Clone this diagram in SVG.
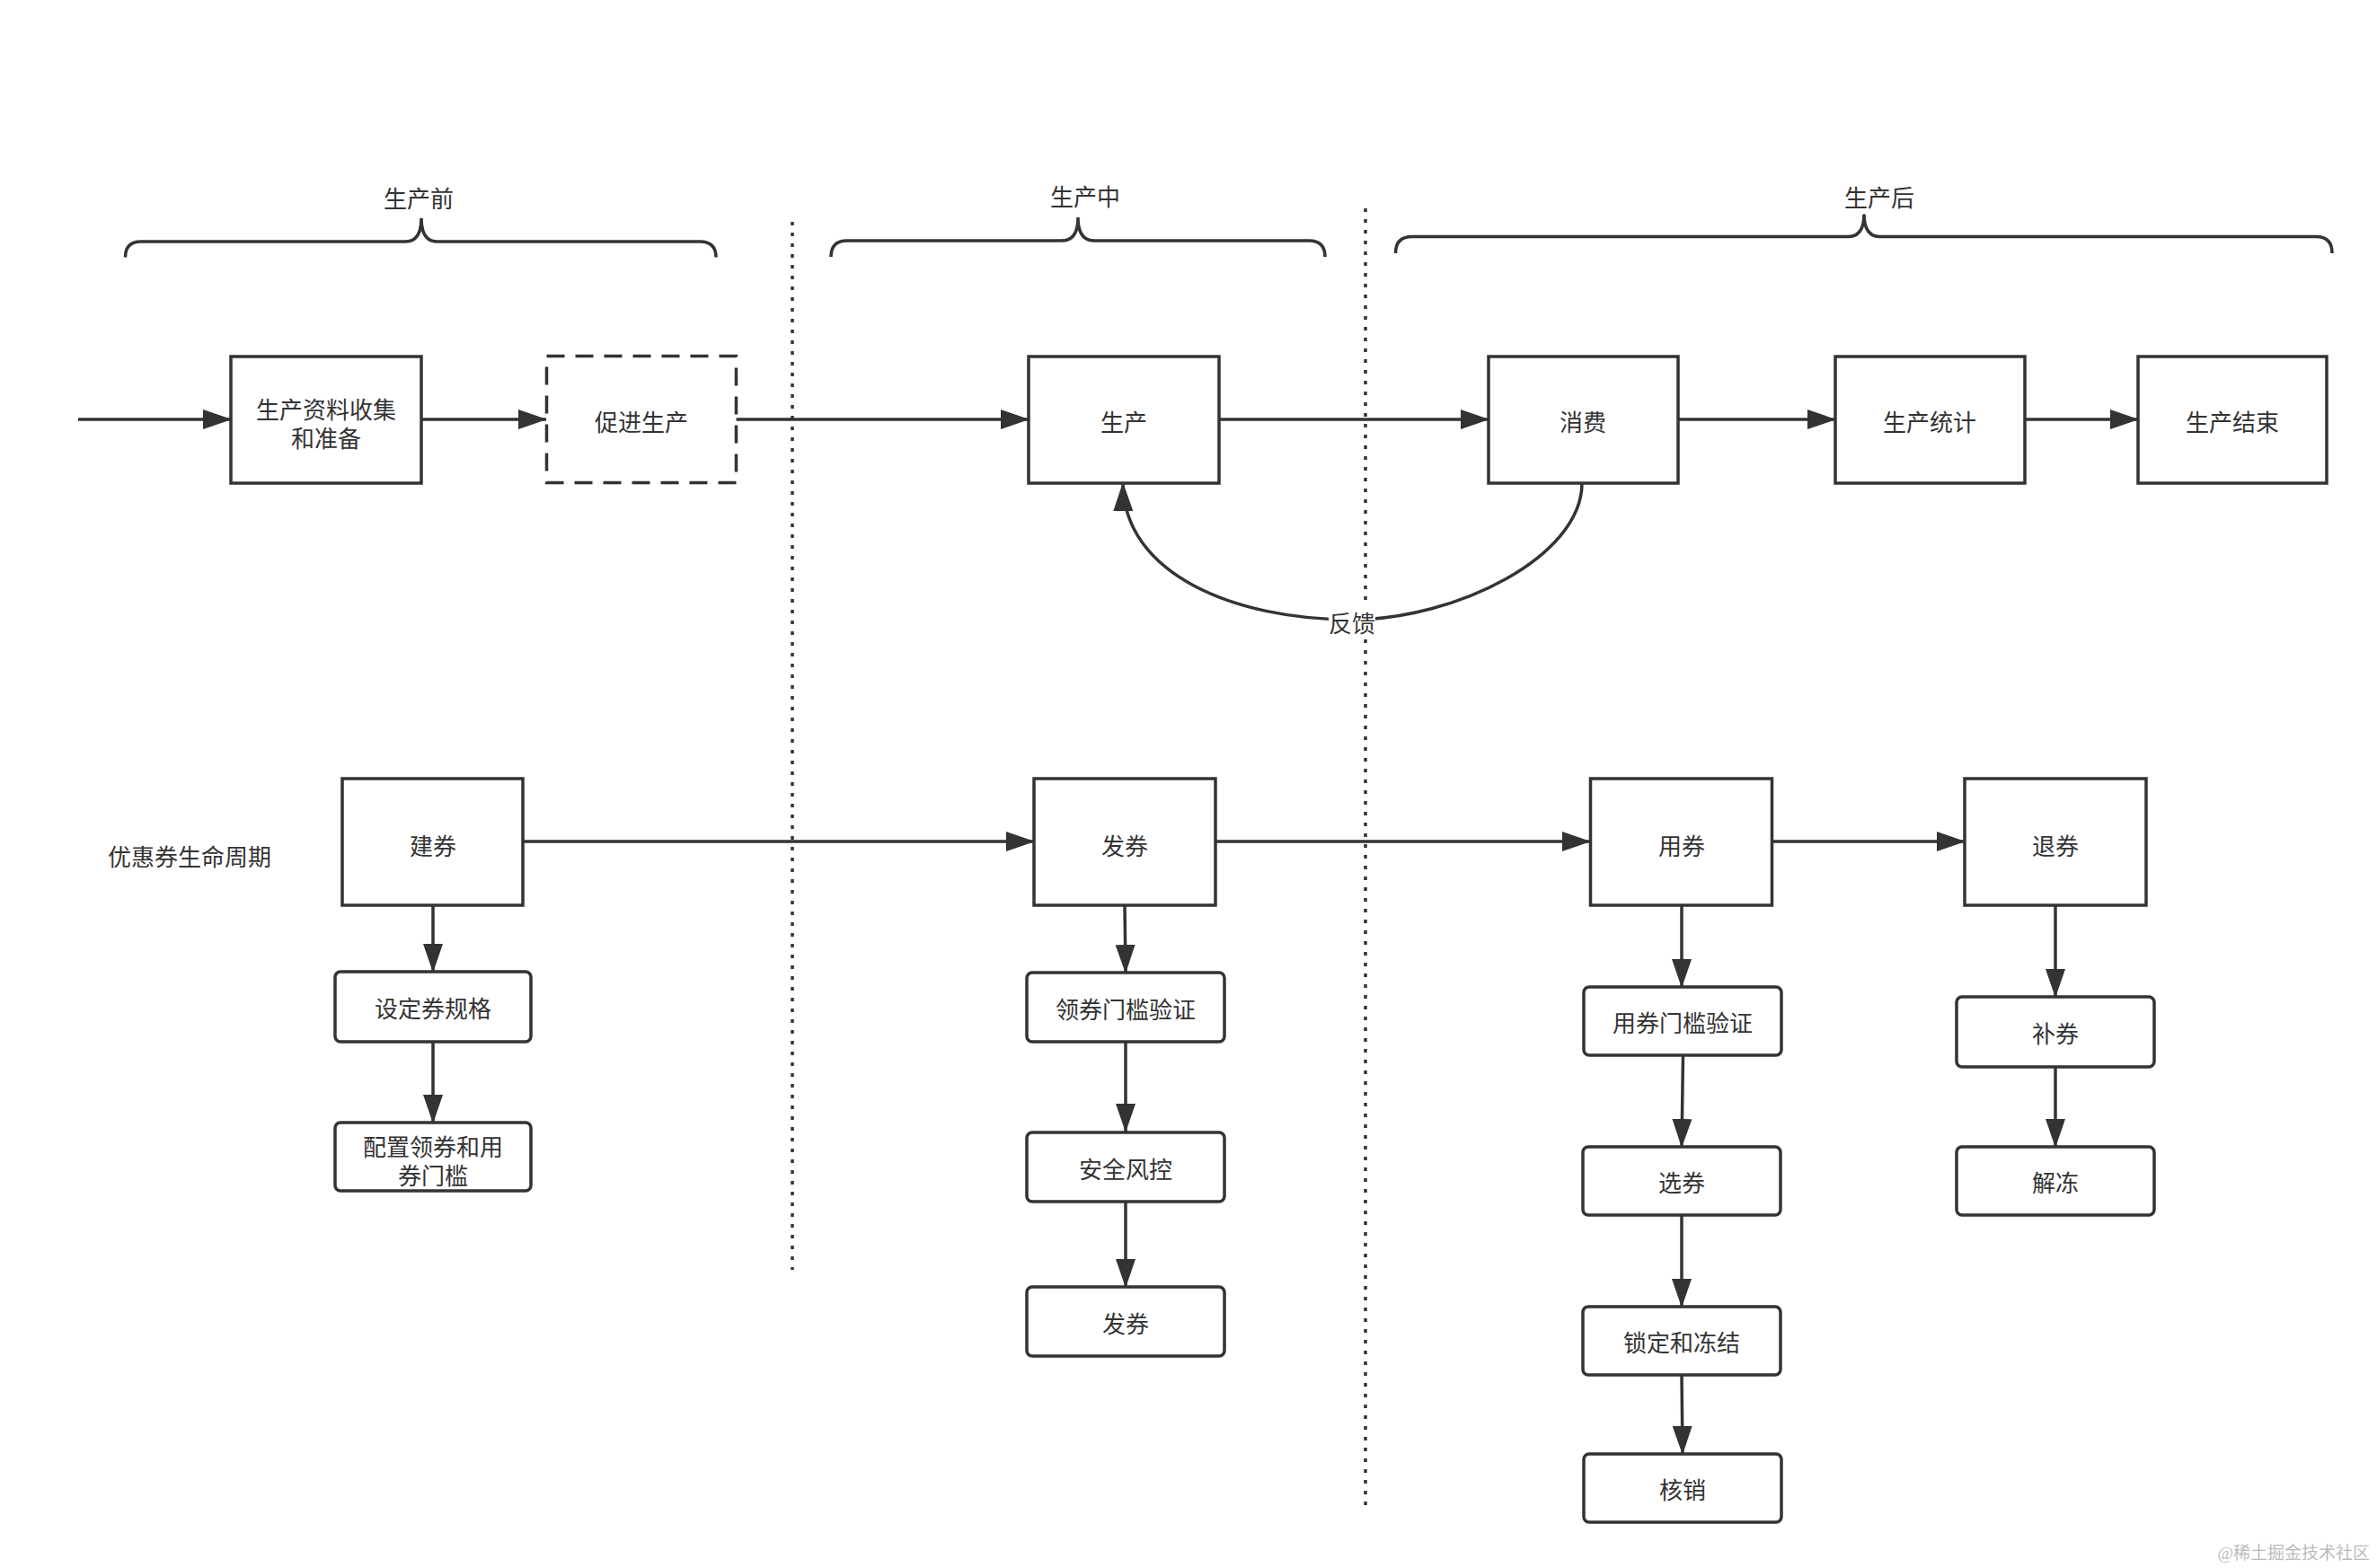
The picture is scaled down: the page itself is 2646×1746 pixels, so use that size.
<svg xmlns="http://www.w3.org/2000/svg" width="2646" height="1746" viewBox="0 0 2646 1746">
<style>
.box{fill:#ffffff;stroke:#333333;stroke-width:3.5}
.dash{fill:#ffffff;stroke:#333333;stroke-width:3.5;stroke-dasharray:20 12}
.t{font-family:"Noto Sans CJK SC","Noto Sans",sans-serif;font-size:26px;fill:#333333;text-anchor:middle}
.tl{font-family:"Noto Sans CJK SC","Noto Sans",sans-serif;font-size:26px;fill:#333333;text-anchor:start}
.c{fill:none;stroke:#333333;stroke-width:3.5}
.dot{fill:none;stroke:#333333;stroke-width:3.5;stroke-dasharray:4 8}
.brace{fill:none;stroke:#333333;stroke-width:3.5}
.wm{font-family:"Liberation Serif","Noto Sans CJK SC",serif;font-size:19px;fill:#bbbbbb;text-anchor:end}
</style>
<defs>
<marker id="arr" markerUnits="userSpaceOnUse" markerWidth="32" markerHeight="22" refX="31" refY="11" orient="auto">
<path d="M0,0 L32,11 L0,22 Z" fill="#333333"/>
</marker>
</defs>
<rect width="2646" height="1746" fill="#ffffff"/>

<g id="separators">
<line class="dot" x1="882" y1="247" x2="882" y2="1414"/>
<line class="dot" x1="1520" y1="232" x2="1520" y2="1678"/>
</g>

<g id="phase-before">
<path class="brace" d="M139.5,286.5 Q139.5,269 157,269 L451,269 Q469,269 469,243 Q469,269 487,269 L779,269 Q797,269 797,286.5"/>
<text class="t" x="466" y="231">生产前</text>
</g>
<g id="phase-during">
<path class="brace" d="M925,286 Q925,268 943,268 L1182,268 Q1200,268 1200,242 Q1200,268 1218,268 L1457,268 Q1475,268 1475,286"/>
<text class="t" x="1208" y="229">生产中</text>
</g>
<g id="phase-after">
<path class="brace" d="M1553.5,282 Q1553.5,263.6 1572,263.6 L2057,263.6 Q2075,263.6 2075,238.6 Q2075,263.6 2093,263.6 L2578,263.6 Q2596,263.6 2596,282"/>
<text class="t" x="2092" y="230">生产后</text>
</g>

<g id="connectors">
<line class="c" x1="87" y1="467" x2="257" y2="467" marker-end="url(#arr)"/>
<line class="c" x1="469" y1="467" x2="608" y2="467" marker-end="url(#arr)"/>
<line class="c" x1="819" y1="467" x2="1145" y2="467" marker-end="url(#arr)"/>
<line class="c" x1="1357" y1="467" x2="1657" y2="467" marker-end="url(#arr)"/>
<line class="c" x1="1868" y1="467" x2="2043" y2="467" marker-end="url(#arr)"/>
<line class="c" x1="2254" y1="467" x2="2380" y2="467" marker-end="url(#arr)"/>
<path class="c" d="M1761,538 C1761,620 1620,690 1505,690 C1375,690 1251,640 1250,538" marker-end="url(#arr)"/>
<rect x="1479" y="675" width="52" height="34" fill="#ffffff"/>
<text class="t" x="1505" y="704">反馈</text>

<line class="c" x1="582" y1="937" x2="1151" y2="937" marker-end="url(#arr)"/>
<line class="c" x1="1353" y1="937" x2="1770" y2="937" marker-end="url(#arr)"/>
<line class="c" x1="1972" y1="937" x2="2187" y2="937" marker-end="url(#arr)"/>

<line class="c" x1="482" y1="1008" x2="482" y2="1082" marker-end="url(#arr)"/>
<line class="c" x1="482" y1="1160" x2="482" y2="1250" marker-end="url(#arr)"/>
<line class="c" x1="1252" y1="1008" x2="1253" y2="1083" marker-end="url(#arr)"/>
<line class="c" x1="1253" y1="1160" x2="1253" y2="1260" marker-end="url(#arr)"/>
<line class="c" x1="1253" y1="1338" x2="1253" y2="1433" marker-end="url(#arr)"/>
<line class="c" x1="1872" y1="1008" x2="1872" y2="1099" marker-end="url(#arr)"/>
<line class="c" x1="1873.5" y1="1175" x2="1872" y2="1277" marker-end="url(#arr)"/>
<line class="c" x1="1872" y1="1353" x2="1872" y2="1455" marker-end="url(#arr)"/>
<line class="c" x1="1872" y1="1531" x2="1873" y2="1619" marker-end="url(#arr)"/>
<line class="c" x1="2288" y1="1008" x2="2288" y2="1110" marker-end="url(#arr)"/>
<line class="c" x1="2288" y1="1188" x2="2288" y2="1277" marker-end="url(#arr)"/>
</g>

<g id="n-collect">
<rect class="box" x="257" y="397" width="212" height="141"/>
<text class="t" x="363" y="466">生产资料收集</text>
<text class="t" x="363" y="498">和准备</text>
</g>
<g id="n-promote">
<rect class="dash" x="608.5" y="396.5" width="211" height="141"/>
<text class="t" x="714" y="480">促进生产</text>
</g>
<g id="n-produce">
<rect class="box" x="1145" y="397" width="212" height="141"/>
<text class="t" x="1251" y="480">生产</text>
</g>
<g id="n-consume">
<rect class="box" x="1657" y="397" width="211" height="141"/>
<text class="t" x="1762" y="480">消费</text>
</g>
<g id="n-stats">
<rect class="box" x="2043" y="397" width="211" height="141"/>
<text class="t" x="2148" y="480">生产统计</text>
</g>
<g id="n-end">
<rect class="box" x="2380" y="397" width="210" height="141"/>
<text class="t" x="2485" y="480">生产结束</text>
</g>

<g id="lifecycle-label">
<text class="tl" x="120" y="964">优惠券生命周期</text>
</g>

<g id="n-create">
<rect class="box" x="381" y="867" width="201" height="141"/>
<text class="t" x="482" y="952">建券</text>
</g>
<g id="n-spec">
<rect class="box" x="373" y="1082" width="218" height="78" rx="6"/>
<text class="t" x="482" y="1133">设定券规格</text>
</g>
<g id="n-config">
<rect class="box" x="373" y="1250" width="218" height="76" rx="6"/>
<text class="t" x="482" y="1287">配置领券和用</text>
<text class="t" x="482" y="1319">券门槛</text>
</g>

<g id="n-issue">
<rect class="box" x="1151" y="867" width="202" height="141"/>
<text class="t" x="1252" y="952">发券</text>
</g>
<g id="n-claim-check">
<rect class="box" x="1143" y="1083" width="220" height="77" rx="6"/>
<text class="t" x="1253" y="1134">领券门槛验证</text>
</g>
<g id="n-risk">
<rect class="box" x="1143" y="1261" width="220" height="77" rx="6"/>
<text class="t" x="1253" y="1312">安全风控</text>
</g>
<g id="n-issue2">
<rect class="box" x="1143" y="1433" width="220" height="77" rx="6"/>
<text class="t" x="1253" y="1484">发券</text>
</g>

<g id="n-use">
<rect class="box" x="1770.5" y="867" width="202" height="141"/>
<text class="t" x="1872" y="952">用券</text>
</g>
<g id="n-use-check">
<rect class="box" x="1763" y="1099" width="220" height="76" rx="6"/>
<text class="t" x="1873" y="1149">用券门槛验证</text>
</g>
<g id="n-select">
<rect class="box" x="1762" y="1277" width="220" height="76" rx="6"/>
<text class="t" x="1872" y="1327">选券</text>
</g>
<g id="n-lock">
<rect class="box" x="1762" y="1455" width="220" height="76" rx="6"/>
<text class="t" x="1872" y="1505">锁定和冻结</text>
</g>
<g id="n-writeoff">
<rect class="box" x="1763" y="1619" width="220" height="76" rx="6"/>
<text class="t" x="1873" y="1669">核销</text>
</g>

<g id="n-refund">
<rect class="box" x="2187" y="867" width="202" height="141"/>
<text class="t" x="2288" y="952">退券</text>
</g>
<g id="n-reissue">
<rect class="box" x="2178" y="1110" width="220" height="78" rx="6"/>
<text class="t" x="2288" y="1161">补券</text>
</g>
<g id="n-unfreeze">
<rect class="box" x="2178" y="1277" width="220" height="76" rx="6"/>
<text class="t" x="2288" y="1327">解冻</text>
</g>

<g id="watermark">
<text class="wm" x="2638" y="1736">@稀土掘金技术社区</text>
</g>
</svg>
